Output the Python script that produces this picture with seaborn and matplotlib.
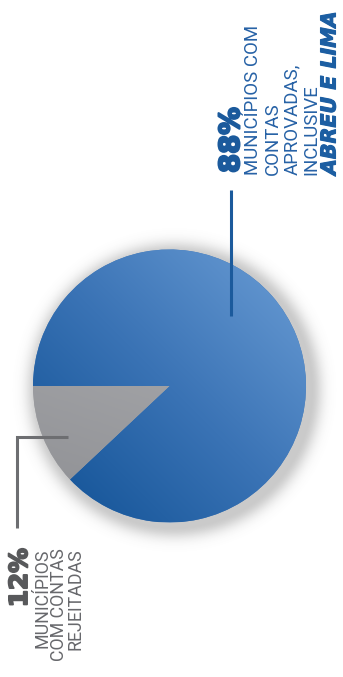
import numpy as np
import matplotlib
matplotlib.use("Agg")
import matplotlib.pyplot as plt
import matplotlib.patheffects as pe
import seaborn as sns

# Shares of municipalities by outcome of the accounts review
categories = ["Contas rejeitadas", "Contas aprovadas"]
shares = [12, 88]
pct_labels = ["12%", "88%"]
desc_rejected = ["MUNICÍPIOS", "COM CONTAS", "REJEITADAS"]
desc_approved = ["MUNICÍPIOS COM", "CONTAS", "APROVADAS,", "INCLUSIVE"]
highlight = "ABREU E LIMA"

sns.set_theme(style="white")
plt.rcParams["font.family"] = ["Roboto", "DejaVu Sans"]

W, H = 343, 677
fig = plt.figure(figsize=(W / 100, H / 100), dpi=100)
ax = fig.add_axes([0, 0, 1, 1])

cx, cy, R = 169.5, H - 386, 136.5

# soft drop shadow around the disc
yy, xx = np.mgrid[0:H, 0:W]
sx, sy = cx + 5, cy - 4
dist = np.hypot(xx + 0.5 - sx, (H - yy - 0.5) - sy) - R
alpha = np.where(dist > 0, 0.36 * np.exp(-(dist / 12.0) ** 2), 0.36)
shadow = np.zeros((H, W, 4))
shadow[..., :3] = 0.42
shadow[..., 3] = alpha
ax.imshow(shadow, extent=(0, W, 0, H), origin="upper", zorder=1, interpolation="bilinear")

palette = sns.color_palette(["#a2a3a7", "#3f77b8"])
wedges, _ = ax.pie(shares, startangle=180, counterclock=True, colors=palette,
                   center=(cx, cy), radius=R, frame=True,
                   wedgeprops=dict(linewidth=0, zorder=2))
ax.set_xlim(0, W)
ax.set_ylim(0, H)
ax.set_aspect("equal")
ax.axis("off")

# diagonal gradients clipped to each wedge
gx, gy = np.meshgrid(np.linspace(-1, 1, 300), np.linspace(1, -1, 300))
diag = np.clip((gx + gy) / 2.0 * 0.5 + 0.5, 0, 1)
blue = sns.blend_palette(["#0e4f93", "#3a73b5", "#6c9ed6"], n_colors=256, as_cmap=True)
vert = np.clip((gy + 1) / 2.0, 0, 1)
grey = sns.blend_palette(["#8e8f93", "#b2b3b6"], n_colors=256, as_cmap=True)
ext = (cx - R, cx + R, cy - R, cy + R)
for wedge, img, cmap in [(wedges[1], diag, blue), (wedges[0], vert * 0.5 + diag * 0.5, grey)]:
    im = ax.imshow(img, cmap=cmap, vmin=0, vmax=1, extent=ext, origin="upper",
                   zorder=3, interpolation="bilinear")
    im.set_clip_path(wedge)

# leader lines
ax.plot([231, 231], [H - 190, H - 316], color="#1b5a9c", lw=2.2, zorder=5,
        solid_capstyle="butt")
ax.plot([17, 17, 68], [H - 528, H - 437, H - 437], color="#6d6e71", lw=2.2,
        zorder=5, solid_capstyle="butt", solid_joinstyle="miter")

heavy = dict(family=["DejaVu Sans"], fontweight="bold", rotation=90,
             rotation_mode="anchor", va="baseline")

# approved label (reads bottom to top, left-aligned at the bottom)
dark_blue = "#1b5a9c"
ax.text(239, H - 173, pct_labels[1], ha="left", fontsize=19.8, color=dark_blue,
        path_effects=[pe.withStroke(linewidth=1.6, foreground=dark_blue)], **heavy)
body_x = [257.5, 277.5, 297, 316]
for x, line in zip(body_x, desc_approved):
    ax.text(x, H - 175, line, rotation=90, rotation_mode="anchor", ha="left",
            va="baseline", fontsize=13.4, color="#2762a6")
ax.text(335.5, H - 175, highlight, ha="left", fontsize=14.8, fontstyle="italic",
        color="#1c5ea2", path_effects=[pe.withStroke(linewidth=0.8, foreground="#1c5ea2")],
        **heavy)

# rejected label (right end aligned at the top)
ax.text(27, H - 548, pct_labels[0], ha="right", fontsize=17.8, color="#58595b",
        path_effects=[pe.withStroke(linewidth=1.4, foreground="#58595b")], **heavy)
grey_x = [47.5, 64, 80.5]
for x, line in zip(grey_x, desc_rejected):
    ax.text(x, H - 548, line, rotation=90, rotation_mode="anchor", ha="right",
            va="baseline", fontsize=12.8, color="#67686c")

fig.savefig("out.png", dpi=100, facecolor="white")
